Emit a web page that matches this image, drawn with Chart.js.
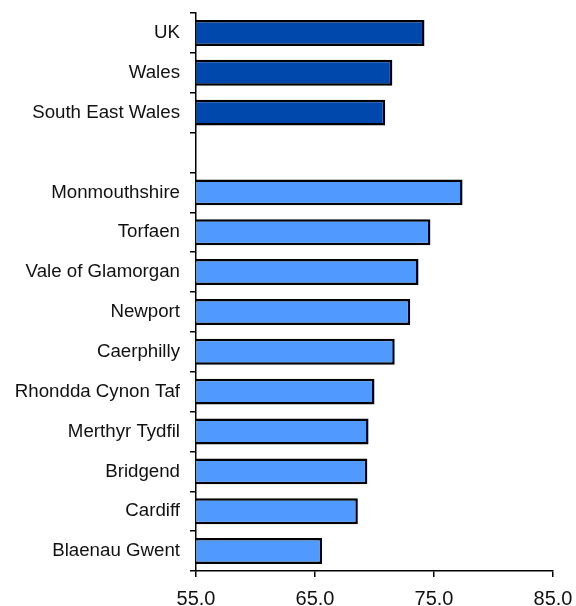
<!DOCTYPE html>
<html lang="en">
<head>
  <meta charset="UTF-8" />
  <title>Employment rate by area</title>
  <style>
    html, body {
      margin: 0;
      padding: 0;
      background: #fff;
    }
    #wrap {
      width: 576px;
      height: 606px;
    }
  </style>
</head>
<body>
  <div id="wrap">
    <canvas id="barChart" width="576" height="606"></canvas>
  </div>

  <script src="https://cdn.jsdelivr.net/npm/chart.js"></script>
  <script>
    // areas, top to bottom ('' is the gap row)
    const areas = [
      'UK', 'Wales', 'South East Wales', '',
      'Monmouthshire', 'Torfaen', 'Vale of Glamorgan', 'Newport', 'Caerphilly',
      'Rhondda Cynon Taf', 'Merthyr Tydfil', 'Bridgend', 'Cardiff', 'Blaenau Gwent'
    ];
    const rates = [
      74.2, 71.5, 70.9, null,
      77.4, 74.7, 73.7, 73.0, 71.7,
      70.0, 69.5, 69.4, 68.6, 65.6
    ];
    const isSummary = [true, true, true, false, false, false, false, false, false, false, false, false, false, false];
    const xTicks = [55, 65, 75, 85];

    const darkBlue = '#0048AC';
    const lightBlue = '#5099FF';

    const ctx = document.getElementById('barChart').getContext('2d');
    new Chart(ctx, {
      type: 'bar',
      data: {
        labels: areas,
        datasets: [{
          data: rates,
          backgroundColor: isSummary.map(s => s ? darkBlue : lightBlue),
          borderColor: '#000',
          borderWidth: 2.5,
          borderSkipped: false,
          barPercentage: 0.65,
          categoryPercentage: 1
        }]
      },
      options: {
        indexAxis: 'y',
        responsive: false,
        animation: false,
        layout: { padding: { top: 13, right: 23, left: 0, bottom: 0 } },
        plugins: {
          legend: { display: false },
          tooltip: { enabled: false }
        },
        scales: {
          x: {
            min: xTicks[0],
            max: xTicks[xTicks.length - 1],
            afterBuildTicks: axis => {
              axis.ticks = xTicks.map(v => ({ value: v }));
            },
            afterFit: axis => {
              axis.height = 35;
              // let the last label hang over the edge, as in the original
              axis.paddingLeft = 0;
              axis.paddingRight = 0;
            },
            border: { display: true, color: '#000', width: 1.5 },
            grid: {
              display: true,
              drawOnChartArea: false,
              drawTicks: true,
              tickLength: 6,
              color: '#000',
              lineWidth: 1.5
            },
            ticks: {
              padding: 10,
              maxRotation: 0,
              color: '#111',
              font: { family: "'Liberation Sans', Arial, sans-serif", size: 20 },
              callback: v => Number(v).toFixed(1)
            }
          },
          y: {
            afterFit: axis => {
              axis.width = 196;
              axis.paddingTop = 0;
              axis.paddingBottom = 0;
            },
            border: { display: true, color: '#000', width: 1.5 },
            grid: {
              display: true,
              offset: true,
              drawOnChartArea: false,
              drawTicks: true,
              tickLength: 6,
              color: '#000',
              lineWidth: 1.5
            },
            ticks: {
              padding: 10,
              color: '#111',
              autoSkip: false,
              font: { family: "'Liberation Sans', Arial, sans-serif", size: 18.7 }
            }
          }
        }
      }
    });
  </script>
</body>
</html>
